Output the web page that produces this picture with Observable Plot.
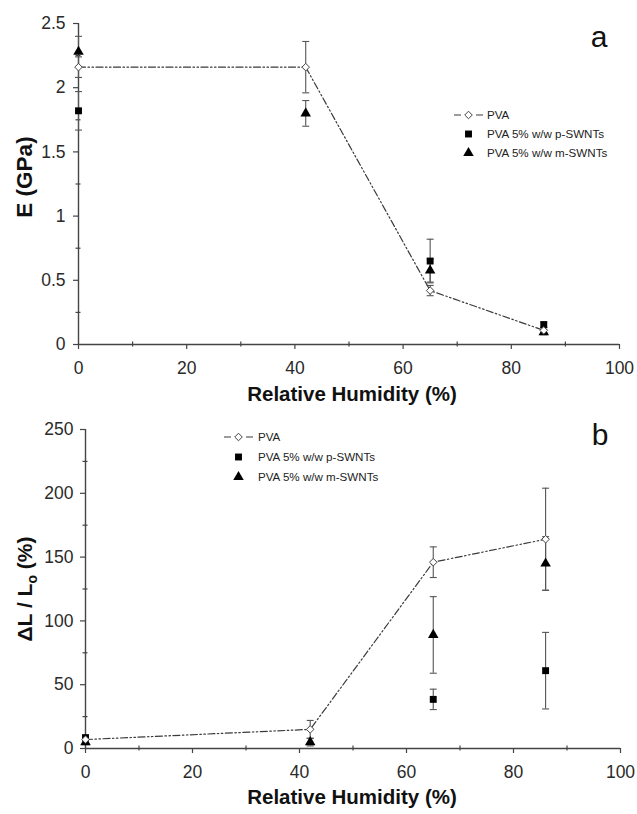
<!DOCTYPE html>
<html>
<head>
<meta charset="utf-8">
<script src="https://cdn.jsdelivr.net/npm/d3@7"></script>
<script src="https://cdn.jsdelivr.net/npm/@observablehq/plot@0.6"></script>
<style>
  html, body { margin: 0; padding: 0; background: #fff; }
  #wrap { width: 637px; }
  svg { display: block; }
</style>
</head>
<body>
<div id="wrap"></div>
<script>
// ---------- data ----------
const humidity = [0, 42, 65, 86];
const seriesNames = ["PVA", "PVA 5% w/w p-SWNTs", "PVA 5% w/w m-SWNTs"];

// Panel a: Young's modulus E (GPa)
const pvaE      = [2.16, 2.16, 0.42, 0.11];
const pvaEErr   = [0.08, 0.20, 0.04, 0.02];
const pE        = [1.82, null, 0.65, 0.155];
const pEErr     = [0.15, null, 0.17, 0.02];
const mE        = [2.28, 1.80, 0.576, 0.096];
const mEErr     = [0.12, 0.10, 0.09, 0.02];

// Panel b: strain ΔL/Lo (%)
const pvaS      = [7, 15, 146, 164];
const pvaSErr   = [2, 7, 12, 40];
const pS        = [8.5, null, 38.5, 61];
const pSErr     = [2, null, 8, 30];
const mS        = [5, 5, 89, 145];
const mSErr     = [2, 3, 30, 21];

const xTicks = [0, 20, 40, 60, 80, 100];
const xMinor = [10, 30, 50, 70, 90];
const yTicksA = [0, 0.5, 1, 1.5, 2, 2.5];
const yMinorA = [0.25, 0.75, 1.25, 1.75, 2.25];
const yTicksB = [0, 50, 100, 150, 200, 250];
const yMinorB = [25, 75, 125, 175, 225];

// ---------- helpers ----------
function rows(vals, errs, series) {
  return humidity.map((h, i) => ({h, v: vals[i], e: errs[i], series}))
    .filter(d => d.v != null);
}
const capSymbol = {
  draw(ctx, size) {
    const w = Math.sqrt(size / Math.PI);
    ctx.moveTo(-w, 0); ctx.lineTo(w, 0);
  }
};
const AX = "#444";
const LINE = "#3a3a3a";
const DASH = "7,2.5,1.5,2.5,1.5,2.5";
const FONT = "'Liberation Sans', Arial, sans-serif";
const fmt = d => String(d);

function errorMarks(data) {
  return [
    Plot.ruleX(data, {x: "h", y1: d => d.v - d.e, y2: d => d.v + d.e, stroke: "#555", strokeWidth: 1.1}),
    Plot.dot(data, {x: "h", y: d => d.v + d.e, symbol: capSymbol, r: 3.5, stroke: "#555", strokeWidth: 1.1}),
    Plot.dot(data, {x: "h", y: d => d.v - d.e, symbol: capSymbol, r: 3.5, stroke: "#555", strokeWidth: 1.1})
  ];
}

function panel({height, marginTop, marginBottom, marginLeft, marginRight, yDomain, yTicks, yMinor, pva, p, m, tickPadY}) {
  return Plot.plot({
    width: 637, height, marginTop, marginBottom, marginLeft, marginRight,
    style: {fontFamily: FONT, fontSize: "17.5px", color: "#222", background: "white", overflow: "visible"},
    x: {domain: [0, 100]},
    y: {domain: yDomain},
    marks: [
      Plot.axisX({ticks: xTicks, tickFormat: fmt, tickSize: 5, tickPadding: 12, label: null, stroke: AX, fontSize: 17.5, fill: "#2a2a2a", strokeWidth: 1.2}),
      Plot.axisX({ticks: xMinor, tickSize: 5, tickFormat: () => "", label: null, stroke: AX, dy: -2.5, strokeWidth: 1.2}),
      Plot.axisY({ticks: yTicks, tickFormat: fmt, tickSize: 5, tickPadding: tickPadY, label: null, stroke: AX, fontSize: 17.5, fill: "#2a2a2a", strokeWidth: 1.2}),
      Plot.axisY({ticks: yMinor, tickSize: 5, tickFormat: () => "", label: null, stroke: AX, dx: 2.5, strokeWidth: 1.2}),
      Plot.ruleX([0], {stroke: AX, strokeWidth: 1.4}),
      Plot.ruleY([yDomain[0]], {stroke: AX, strokeWidth: 1.4}),
      ...errorMarks(pva), ...errorMarks(p), ...errorMarks(m),
      Plot.line(pva, {x: "h", y: "v", stroke: LINE, strokeWidth: 1.2, strokeDasharray: DASH}),
      Plot.dot(p, {x: "h", y: "v", symbol: "square", r: 3.9, fill: "black"}),
      Plot.dot(m, {x: "h", y: "v", symbol: "triangle", r: 3.9, fill: "black"}),
      Plot.dot(pva, {x: "h", y: "v", symbol: "diamond2", r: 3.4, fill: "white", stroke: "#444", strokeWidth: 1})
    ]
  });
}

function addLegend(svg, {xLine0, xSym, xText, ys}) {
  const g = d3.select(svg).append("g").attr("font-family", FONT).attr("font-size", 11.6)
    .attr("fill", "#222").attr("text-anchor", "start");
  g.append("line").attr("x1", xLine0).attr("x2", xLine0 + 29).attr("y1", ys[0]).attr("y2", ys[0])
    .attr("stroke", LINE).attr("stroke-width", 1.2).attr("stroke-dasharray", "7,15,7");
  g.append("path").attr("transform", `translate(${xSym},${ys[0]})`)
    .attr("d", d3.symbol(d3.symbolDiamond2, 3.4 * 3.4 * Math.PI)()).attr("fill", "white").attr("stroke", "#444");
  g.append("path").attr("transform", `translate(${xSym},${ys[1]})`)
    .attr("d", d3.symbol(d3.symbolSquare, 3.9 * 3.9 * Math.PI)()).attr("fill", "black");
  g.append("path").attr("transform", `translate(${xSym},${ys[2]})`)
    .attr("d", d3.symbol(d3.symbolTriangle, 3.9 * 3.9 * Math.PI)()).attr("fill", "black");
  seriesNames.forEach((name, i) => {
    g.append("text").attr("x", xText).attr("y", ys[i]).attr("dy", "0.35em").text(name);
  });
}

function addLabels(svg, {xLabelY, yLabelX, yLabelY, yLabelSize, letter, letterX, letterY, yLabelNodes}) {
  const s = d3.select(svg);
  s.append("text").attr("x", 352).attr("y", xLabelY).attr("text-anchor", "middle")
    .attr("font-family", FONT).attr("font-weight", "bold").attr("font-size", 20.5).attr("fill", "#111")
    .text("Relative Humidity (%)");
  const t = s.append("text").attr("transform", `translate(${yLabelX},${yLabelY}) rotate(-90)`)
    .attr("text-anchor", "middle").attr("font-family", FONT).attr("font-weight", "bold")
    .attr("font-size", yLabelSize).attr("fill", "#111");
  yLabelNodes(t);
  s.append("text").attr("x", letterX).attr("y", letterY).attr("text-anchor", "middle")
    .attr("font-family", FONT).attr("font-size", 30).attr("fill", "#111").text(letter);
}

const wrap = document.getElementById("wrap");

// ---------- panel a ----------
const svgA = panel({
  height: 408, marginTop: 23, marginBottom: 64, marginLeft: 78, marginRight: 18,
  yDomain: [0, 2.5], yTicks: yTicksA, yMinor: yMinorA, tickPadY: 8,
  pva: rows(pvaE, pvaEErr, seriesNames[0]),
  p: rows(pE, pEErr, seriesNames[1]),
  m: rows(mE, mEErr, seriesNames[2])
});
addLegend(svgA, {xLine0: 454, xSym: 468.5, xText: 487, ys: [115, 134, 153]});
addLabels(svgA, {xLabelY: 401, yLabelX: 32, yLabelY: 177, yLabelSize: 22.5, letter: "a", letterX: 599, letterY: 47,
  yLabelNodes: t => t.text("E (GPa)")});
wrap.appendChild(svgA);

// ---------- panel b ----------
const svgB = panel({
  height: 406, marginTop: 21, marginBottom: 66, marginLeft: 85, marginRight: 17,
  yDomain: [0, 250], yTicks: yTicksB, yMinor: yMinorB, tickPadY: 7,
  pva: rows(pvaS, pvaSErr, seriesNames[0]),
  p: rows(pS, pSErr, seriesNames[1]),
  m: rows(mS, mSErr, seriesNames[2])
});
addLegend(svgB, {xLine0: 224, xSym: 238.5, xText: 258, ys: [29, 49, 69]});
addLabels(svgB, {xLabelY: 396, yLabelX: 32, yLabelY: 181, yLabelSize: 21, letter: "b", letterX: 600, letterY: 37,
  yLabelNodes: t => {
    t.append("tspan").text("ΔL / L");
    t.append("tspan").attr("font-size", 14).attr("dy", 5).text("o");
    t.append("tspan").attr("dy", -5).text(" (%)");
  }});
wrap.appendChild(svgB);
</script>
</body>
</html>
